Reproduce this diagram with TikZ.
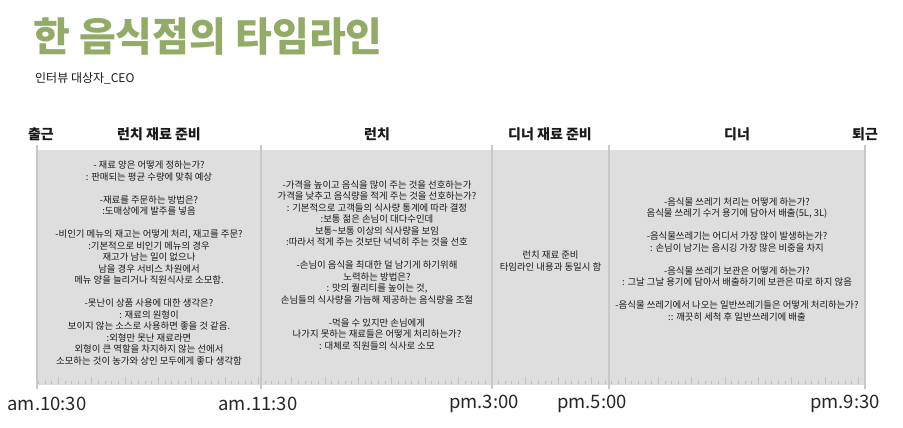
\documentclass[tikz,border=0pt]{standalone}
\usepackage{fontspec}
\setmainfont{Noto Sans CJK KR}
\definecolor{titlegreen}{RGB}{146,172,104}
\definecolor{panel}{RGB}{222,222,222}
\definecolor{divider}{RGB}{200,200,200}
\definecolor{tickc}{RGB}{192,192,192}
\definecolor{ink}{RGB}{25,25,25}
\begin{document}
\begin{tikzpicture}[x=1pt,y=-1pt,
  body/.style={font=\fontsize{9.4}{11.5}\selectfont, align=center, text=ink, inner sep=0pt},
  head/.style={font=\fontsize{14}{16}\selectfont\bfseries, text=black!90, inner sep=0pt},
  timelbl/.style={font=\fontsize{18.5}{20}\selectfont, text=black!85, inner sep=0pt},
  divline/.style={divider, line width=1.5pt}]
\useasboundingbox (0,0) rectangle (903,428);
% title
\node[anchor=base west, inner sep=0pt, text=titlegreen, font=\fontsize{40}{44}\selectfont\bfseries] (title) at (33,52) {한 음식점의 타임라인};
\node[anchor=base west, inner sep=0pt, text=ink, font=\fontsize{12}{14}\selectfont] (subtitle) at (35,83) {인터뷰 대상자\_CEO};
% panel
\fill[panel] (37,150) rectangle (865,385);
% ticks
\foreach \j in {2,...,126} {
  \pgfmathsetmacro{\xx}{25+6.6667*\j}
  \pgfmathtruncatemacro{\mm}{mod(\j,5)}
  \ifnum\mm=0
    \draw[tickc, line width=0.8pt] (\xx,377) -- (\xx,384);
  \else
    \draw[tickc, line width=0.8pt] (\xx,380.5) -- (\xx,384);
  \fi
}
% dividers
\foreach \x/\n in {37/a,261/b,492/c,609/d,865/e} {
  \coordinate (top\n) at (\x,145);
  \coordinate (bot\n) at (\x,389);
  \draw[divline] (top\n) -- (bot\n);
}
% headers
\node[head] (h1) at (41,134) {출근};
\node[head] (h2) at (159,134) {런치 재료 준비};
\node[head] (h3) at (377,134) {런치};
\node[head] (h4) at (550,134) {디너 재료 준비};
\node[head] (h5) at (737,134) {디너};
\node[head] (h6) at (865,134) {퇴근};
% time labels
\node[timelbl] (t1) at (47,404) {am.10:30};
\node[timelbl] (t2) at (258,404) {am.11:30};
\node[timelbl] (t3) at (484,404) {pm.3:00};
\node[timelbl] (t4) at (592,404) {pm.5:00};
\node[timelbl] (t5) at (845,404) {pm.9:30};
% column texts
\node[body] (c1) at (149,263) {- 재료 양은 어떻게 정하는가?\\
: 판매되는 평균 수량에 맞춰 예상\\[11.5pt]
-재료를 주문하는 방법은?\\
:도매상에게 발주를 넣음\\[11.5pt]
-비인기 메뉴의 재고는 어떻게 처리, 재고를 주문?\\
:기본적으로 비인기 메뉴의 경우\\
재고가 남는 일이 없으나\\
남을 경우 서비스 차원에서\\
메뉴 양을 늘리거나 직원식사로 소모함.\\[11.5pt]
-못난이 상품 사용에 대한 생각은?\\
: 재료의 원형이\\
보이지 않는 소스로 사용하면 좋을 것 같음.\\
:외형만 못난 재료라면\\
외형이 큰 역할을 차지하지 않는 선에서\\
소모하는 것이 농가와 상인 모두에게 좋다 생각함};
\node[body] (c2) at (377,265) {-가격을 높이고 음식을 많이 주는 것을 선호하는가\\
가격을 낮추고 음식량을 적게 주는 것을 선호하는가?\\
: 기본적으로 고객들의 식사량 통계에 따라 결정\\
:보통 젊은 손님이 대다수인데\\
보통\textasciitilde 보통 이상의 식사량을 보임\\
:따라서 적게 주는 것보단 넉넉히 주는 것을 선호\\[11.5pt]
-손님이 음식을 최대한 덜 남기게 하기위해\\
노력하는 방법은?\\
: 맛의 퀄리티를 높이는 것,\\
손님들의 식사량을 가늠해 제공하는 음식량을 조절\\[11.5pt]
-먹을 수 있지만 손님에게\\
나가지 못하는 재료들은 어떻게 처리하는가?\\
: 대체로 직원들의 식사로 소모};
\node[body] (c3) at (550.5,261) {런치 재료 준비\\
타임라인 내용과 동일시 함};
\node[body] (c4) at (737,259) {-음식물 쓰레기 처리는 어떻게 하는가?\\
음식물 쓰레기 수거 용기에 담아서 배출(5L, 3L)\\[11.5pt]
-음식물쓰레기는 어디서 가장 많이 발생하는가?\\
: 손님이 남기는 음시깅 가장 많은 비중을 차지\\[11.5pt]
-음식물 쓰레기 보관은 어떻게 하는가?\\
: 그날 그날 용기에 담아서 배출하기에 보관은 따로 하지 않음\\[11.5pt]
-음식물 쓰레기에서 나오는 일반쓰레기들은 어떻게 처리하는가?\\
:: 깨끗히 세척 후 일반쓰레기에 배출};
\end{tikzpicture}
\end{document}
